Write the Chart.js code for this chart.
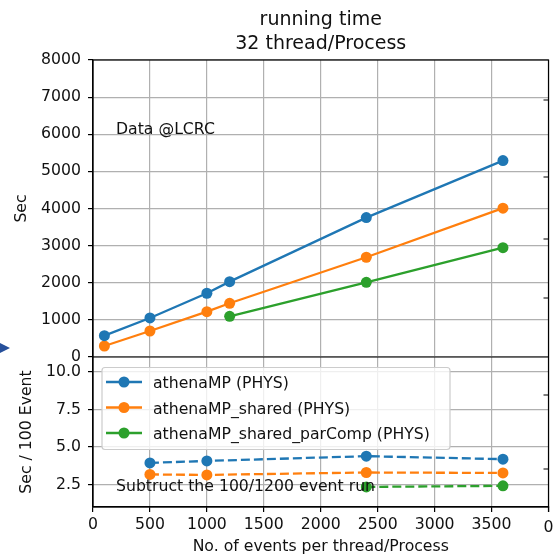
<!DOCTYPE html>
<html>
<head>
<meta charset="utf-8">
<title>running time</title>
<script src="https://cdn.jsdelivr.net/npm/chart.js@4.4.0/dist/chart.umd.min.js"></script>
<style>
  html, body { margin: 0; padding: 0; background: #fff; }
  canvas { display: block; }
</style>
</head>
<body>
<canvas id="chart" width="554" height="557"></canvas>
<script>
// events per thread/process for each run
const eventsAll = [100, 500, 1000, 1200, 2400, 3600];
const eventsParComp = [1200, 2400, 3600];
const eventsNorm = [500, 1000, 2400, 3600];
const eventsNormParComp = [2400, 3600];

// total running time (sec)
const timeAthena = [574, 1051, 1717, 2030, 3755, 5291];
const timeShared = [296, 700, 1221, 1447, 2687, 4008];
const timeParComp = [1097, 2013, 2946];

// sec per 100 events, with the 100/1200 event run subtracted
const perEvtAthena = [3.94, 4.07, 4.39, 4.19];
const perEvtShared = [3.17, 3.14, 3.30, 3.27];
const perEvtParComp = [2.34, 2.41];

const seriesNames = ['athenaMP (PHYS)', 'athenaMP_shared (PHYS)', 'athenaMP_shared_parComp (PHYS)'];
const xTickStep = 500;
const yTickStep = 1000;
const yTicksLower = [2.5, 5.0, 7.5, 10.0];

const BLUE = '#1f77b4', ORANGE = '#ff7f0e', GREEN = '#2ca02c';
const COLORS = [BLUE, ORANGE, GREEN];
const GRID = '#b0b0b0';
const INK = '#111';
const FONT = { family: 'DejaVu Sans', size: 15.7 };

const pts = (xs, ys) => xs.map((x, i) => ({ x, y: ys[i] }));

function solid(label, color, xs, ys) {
    return {
        label, data: pts(xs, ys), yAxisID: 'y',
        borderColor: color, backgroundColor: color, borderWidth: 2.3,
        pointRadius: 5.5, pointBorderWidth: 0, pointBackgroundColor: color
    };
}
function dashed(label, color, xs, ys) {
    return {
        label, data: pts(xs, ys), yAxisID: 'y2',
        borderColor: color, backgroundColor: color, borderWidth: 2.3, borderDash: [9, 4],
        pointRadius: 5.5, pointBorderWidth: 0, pointBackgroundColor: color
    };
}

// frame, title, notes and legend drawn straight on the canvas
const panelDecor = {
    id: 'panelDecor',
    beforeDraw(chart) {
        const { ctx } = chart;
        ctx.save();
        ctx.fillStyle = '#fff';
        ctx.fillRect(0, 0, chart.width, chart.height);
        ctx.restore();
    },
    afterDatasetsDraw(chart) {
        const { ctx, chartArea: a, scales } = chart;
        const sep = scales.y.bottom;
        ctx.save();

        // spines
        ctx.strokeStyle = '#000';
        ctx.lineWidth = 1.2;
        ctx.strokeRect(a.left, a.top, a.right - a.left, a.bottom - a.top);
        ctx.beginPath();
        ctx.moveTo(a.left, sep);
        ctx.lineTo(a.right, sep);
        ctx.stroke();

        // stub of the next panel's axis on the right edge
        ctx.beginPath();
        [100, 177, 239, 298, 395, 469].forEach(y => { ctx.moveTo(a.right - 5, y); ctx.lineTo(a.right, y); });
        ctx.moveTo(a.right, a.bottom);
        ctx.lineTo(a.right, a.bottom + 5);
        ctx.stroke();
        ctx.font = '15.7px "DejaVu Sans"';
        ctx.fillStyle = INK;
        ctx.textAlign = 'center';
        ctx.fillText('0', a.right, 532);

        // legend
        const lx = 102, ly = 367.5, lw = 348, lh = 82;
        ctx.beginPath();
        ctx.roundRect(lx, ly, lw, lh, 3);
        ctx.fillStyle = 'rgba(255,255,255,0.8)';
        ctx.fill();
        ctx.strokeStyle = '#cccccc';
        ctx.lineWidth = 1.2;
        ctx.stroke();
        ctx.textAlign = 'left';
        seriesNames.forEach((name, i) => {
            const cy = 382 + i * 25.5;
            ctx.strokeStyle = COLORS[i];
            ctx.lineWidth = 2.3;
            ctx.beginPath();
            ctx.moveTo(106, cy);
            ctx.lineTo(142, cy);
            ctx.stroke();
            ctx.fillStyle = COLORS[i];
            ctx.beginPath();
            ctx.arc(124, cy, 5.5, 0, Math.PI * 2);
            ctx.fill();
            ctx.fillStyle = INK;
            ctx.fillText(name, 153, cy + 6);
        });

        // notes
        ctx.fillStyle = INK;
        ctx.fillText('Data @LCRC', 116, 134);
        ctx.fillText('Subtruct the 100/1200 event run', 116, 491);

        // title
        ctx.font = '19px "DejaVu Sans"';
        ctx.textAlign = 'center';
        const cx = (a.left + a.right) / 2;
        ctx.fillText('running time', cx, 25);
        ctx.fillText('32 thread/Process', cx, 49);

        // arrow head at the left edge
        ctx.fillStyle = '#27509b';
        ctx.beginPath();
        ctx.moveTo(0, 343);
        ctx.lineTo(10, 348);
        ctx.lineTo(0, 353);
        ctx.closePath();
        ctx.fill();

        ctx.restore();
    }
};

const tickGrid = { color: GRID, lineWidth: 1.2, tickColor: '#000', tickLength: 5, tickWidth: 1.2 };

new Chart(document.getElementById('chart'), {
    type: 'line',
    data: {
        datasets: [
            solid(seriesNames[0], BLUE, eventsAll, timeAthena),
            solid(seriesNames[1], ORANGE, eventsAll, timeShared),
            solid(seriesNames[2], GREEN, eventsParComp, timeParComp),
            dashed(seriesNames[0], BLUE, eventsNorm, perEvtAthena),
            dashed(seriesNames[1], ORANGE, eventsNorm, perEvtShared),
            dashed(seriesNames[2], GREEN, eventsNormParComp, perEvtParComp)
        ]
    },
    options: {
        responsive: false,
        animation: false,
        devicePixelRatio: 1,
        layout: { padding: { top: 60, right: 3, bottom: 0, left: 0 } },
        plugins: {
            legend: { display: false },
            title: { display: false },
            tooltip: { enabled: false }
        },
        scales: {
            x: {
                type: 'linear', min: 0, max: 4000,
                ticks: {
                    stepSize: xTickStep, autoSkip: false, maxRotation: 0, padding: 4,
                    color: INK, font: FONT,
                    callback: v => (v === 4000 ? '' : String(v))
                },
                grid: tickGrid,
                border: { color: '#000', width: 1.2 },
                title: {
                    display: true, text: 'No. of events per thread/Process',
                    color: INK, font: FONT, padding: { top: 0, bottom: 1 }
                },
                afterFit: s => { s.height = 50; }
            },
            y: {
                type: 'linear', position: 'left', stack: 'panels', stackWeight: 297, weight: 1,
                min: 0, max: 8000,
                ticks: { stepSize: yTickStep, autoSkip: false, padding: 7, color: INK, font: FONT, callback: v => String(v) },
                grid: tickGrid,
                border: { color: '#000', width: 1.2 },
                title: { display: true, text: 'Sec', color: INK, font: FONT, padding: { top: 12.6, bottom: 0 } },
                afterFit: s => { s.width = 93; }
            },
            y2: {
                type: 'linear', position: 'left', stack: 'panels', stackWeight: 150, weight: 0,
                min: 1, max: 11,
                afterBuildTicks: s => { s.ticks = yTicksLower.map(v => ({ value: v })); },
                ticks: { autoSkip: false, padding: 7, color: INK, font: FONT, callback: v => v.toFixed(1) },
                grid: tickGrid,
                border: { color: '#000', width: 1.2 },
                title: { display: true, text: 'Sec / 100 Event', color: INK, font: FONT, padding: { top: 17.6, bottom: 0 } },
                afterFit: s => { s.width = 93; }
            }
        }
    },
    plugins: [panelDecor]
});
</script>
</body>
</html>
